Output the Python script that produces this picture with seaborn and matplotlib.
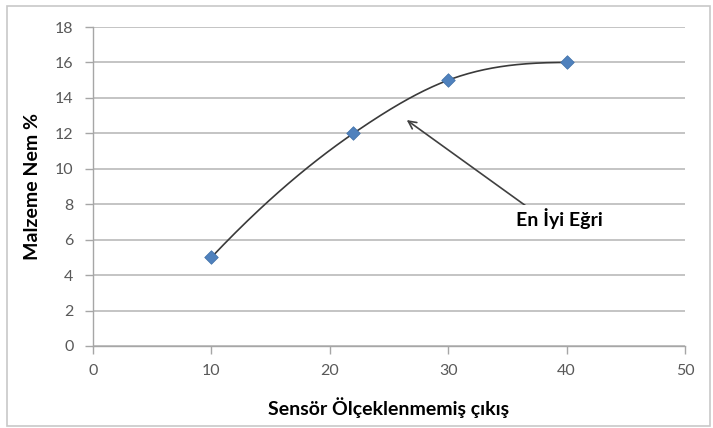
import numpy as np
import pandas as pd
import matplotlib
matplotlib.use("Agg")
import matplotlib.pyplot as plt
import seaborn as sns
from matplotlib.patches import Rectangle

# Measured points
sensor_raw = [10, 22, 30, 40]
moisture = [5, 12, 15, 16]

x_ticks = [0, 10, 20, 30, 40, 50]
y_ticks = [0, 2, 4, 6, 8, 10, 12, 14, 16, 18]

x_label = "Sensör Ölçeklenmemiş çıkış"
y_label = "Malzeme Nem %"
note_text = "En İyi Eğri"


def smooth_curve(xs, ys, n=60):
    """Hermite curve through the points; slopes from local parabolas,
    end slopes kept from turning back against the trend."""
    x = np.asarray(xs, float)
    y = np.asarray(ys, float)
    k = len(x)
    m = np.zeros(k)
    for i in range(k):
        j = min(max(i - 1, 0), k - 3)
        x0, x1, x2 = x[j:j + 3]
        y0, y1, y2 = y[j:j + 3]
        d01 = (y1 - y0) / (x1 - x0)
        d12 = (y2 - y1) / (x2 - x1)
        d012 = (d12 - d01) / (x2 - x0)
        m[i] = d01 + d012 * ((x[i] - x0) + (x[i] - x1))
    m = np.maximum(m, 0.0)
    xs_out, ys_out = [], []
    for i in range(k - 1):
        h = x[i + 1] - x[i]
        t = np.linspace(0, 1, n)
        if i > 0:
            t = t[1:]
        h00 = 2 * t ** 3 - 3 * t ** 2 + 1
        h10 = t ** 3 - 2 * t ** 2 + t
        h01 = -2 * t ** 3 + 3 * t ** 2
        h11 = t ** 3 - t ** 2
        xs_out.append(x[i] + h * t)
        ys_out.append(h00 * y[i] + h10 * h * m[i] + h01 * y[i + 1] + h11 * h * m[i + 1])
    return np.concatenate(xs_out), np.concatenate(ys_out)


sns.set_theme(style="white")
plt.rcParams["font.family"] = ["Lato", "DejaVu Sans"]

fig = plt.figure(figsize=(7.13, 4.28), dpi=100)
ax = fig.add_axes([0.1304, 0.1916, 0.8303, 0.7453])

cx, cy = smooth_curve(sensor_raw, moisture)
curve_df = pd.DataFrame({"x": cx, "y": cy})
pts_df = pd.DataFrame({"x": sensor_raw, "y": moisture})

sns.lineplot(data=curve_df, x="x", y="y", sort=False, ax=ax,
             color="#3a3a3a", linewidth=1.2, zorder=3)
sns.scatterplot(data=pts_df, x="x", y="y", ax=ax, marker="D", s=48,
                color="#4F81BD", edgecolor="#3f6fa8", linewidth=0.5, zorder=4)

ax.set_xlim(0, 50)
ax.set_ylim(0, 18)
ax.set_xticks(x_ticks)
ax.set_yticks(y_ticks)
ax.yaxis.grid(True, color="#b4b4b4", linewidth=1.1)
ax.set_axisbelow(True)

for side in ("top", "right"):
    ax.spines[side].set_visible(False)
for side in ("left", "bottom"):
    ax.spines[side].set_color("#a6a6a6")
    ax.spines[side].set_linewidth(1.0)

ax.tick_params(axis="both", which="major", direction="out", length=6,
               width=1, color="#a6a6a6", labelsize=11.5, labelcolor="#595959",
               bottom=True, left=True)
ax.tick_params(axis="x", pad=7)
ax.tick_params(axis="y", pad=8)

ax.set_xlabel(x_label, fontsize=14, fontweight="bold", color="black", labelpad=14)
ax.set_ylabel(y_label, fontsize=14, fontweight="bold", color="black", labelpad=10)

# Pointer to the fitted curve and its label
ax.annotate("", xy=(26.5, 12.75), xytext=(36.7, 7.84),
            arrowprops=dict(arrowstyle="->", color="#404040", lw=1.2,
                            shrinkA=0, shrinkB=0, mutation_scale=14),
            zorder=5)
ax.text(39.4, 7.2, note_text, ha="center", va="center", fontsize=14,
        fontweight="bold", color="black", zorder=6,
        bbox=dict(boxstyle="square,pad=0.15", fc="white", ec="none"))

# Outer chart frame
fig.patches.append(Rectangle((0.010, 0.005), 0.986, 0.981, transform=fig.transFigure,
                             fill=False, edgecolor="#c8c8c8", linewidth=1.2))

fig.savefig("out.png", dpi=100)
